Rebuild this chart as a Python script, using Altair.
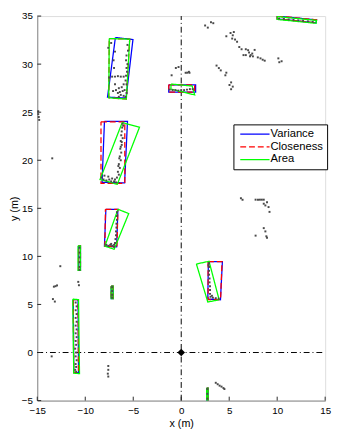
import altair as alt
import pandas as pd

# ---------------- data ----------------
x_ticks = [-15, -10, -5, 0, 5, 10, 15]
y_ticks = [-5, 0, 5, 10, 15, 20, 25, 30, 35]

methods = ["Variance", "Closeness", "Area"]
method_colors = ["#0000ff", "#ff0000", "#00ff00"]
method_dashes = [[1, 0], [6, 3], [1, 0]]

# bounding boxes (corner xs, corner ys) per object and method
variance_boxes = [
    ([-6.86, -5.03, -5.75, -7.68], [32.77, 32.56, 26.47, 26.57]),
    ([-1.30, 1.50, 1.50, -1.30], [27.85, 27.85, 27.08, 27.08]),
    ([-8.00, -5.60, -5.90, -8.25], [24.05, 24.05, 17.65, 17.70]),
    ([-7.85, -6.60, -6.73, -8.00], [14.90, 14.90, 11.00, 11.07]),
    ([2.83, 4.29, 4.09, 2.77], [9.45, 9.45, 5.49, 5.56]),
    ([-11.25, -10.75, -10.70, -11.20], [5.50, 5.50, -2.10, -2.10]),
    ([-10.70, -10.50, -10.50, -10.70], [11.10, 11.10, 8.55, 8.55]),
    ([-7.30, -7.10, -7.10, -7.30], [6.90, 6.90, 5.60, 5.60]),
    ([2.65, 2.80, 2.80, 2.65], [-3.70, -3.70, -5.00, -5.00]),
    ([10.00, 14.10, 14.05, 10.00], [35.00, 34.60, 34.30, 34.70]),
]
closeness_boxes = [
    ([-7.50, -5.37, -5.72, -7.55], [32.66, 32.60, 26.37, 26.50]),
    ([-1.30, 1.40, 1.40, -1.30], [27.85, 27.85, 27.10, 27.10]),
    ([-8.36, -5.88, -5.88, -8.36], [24.00, 24.00, 17.60, 17.60]),
    ([-7.90, -6.60, -6.70, -7.95], [14.90, 14.90, 11.00, 11.05]),
    ([2.80, 4.25, 4.10, 2.80], [9.45, 9.45, 5.50, 5.50]),
    ([-11.25, -10.75, -10.70, -11.20], [5.50, 5.50, -2.10, -2.10]),
    ([-10.70, -10.50, -10.50, -10.70], [11.10, 11.10, 8.55, 8.55]),
    ([-7.30, -7.10, -7.10, -7.30], [6.90, 6.90, 5.60, 5.60]),
    ([2.65, 2.80, 2.80, 2.65], [-3.70, -3.70, -5.00, -5.00]),
    ([10.00, 14.10, 14.05, 10.00], [35.00, 34.60, 34.30, 34.70]),
]
area_boxes = [
    ([-7.50, -5.37, -5.72, -7.55], [32.66, 32.60, 26.37, 26.50]),
    ([-1.07, 1.14, 1.40, -1.07], [27.93, 27.72, 26.80, 27.40]),
    ([-6.15, -4.35, -6.66, -8.46], [23.93, 23.43, 17.50, 18.00]),
    ([-6.59, -5.47, -6.99, -7.95], [14.90, 14.46, 10.74, 11.07]),
    ([1.58, 2.90, 3.95, 2.77], [9.21, 9.49, 5.49, 5.25]),
    ([-11.30, -10.70, -10.60, -11.20], [5.55, 5.50, -2.20, -2.15]),
    ([-10.75, -10.50, -10.50, -10.75], [11.10, 11.10, 8.55, 8.55]),
    ([-7.30, -7.10, -7.10, -7.30], [6.90, 6.90, 5.60, 5.60]),
    ([2.65, 2.80, 2.80, 2.65], [-3.70, -3.70, -5.00, -5.00]),
    ([10.00, 14.10, 14.05, 10.00], [34.95, 34.55, 34.25, 34.65]),
]

# lidar points
pts_x = [
    # object near (-6.5, 29)
    -5.6, -5.55, -5.7, -5.75, -5.6, -5.7, -5.65, -5.75, -5.8, -5.7, -6.0, -6.3,
    -6.6, -6.9, -7.2, -7.5, -7.0, -7.05, -6.9, -7.6, -7.3, -6.0, -6.2, -6.5,
    -6.8, -6.6, -6.3, -6.0, -5.8, -6.9, -7.1, -6.5, -5.9, -5.7, -6.1, -6.4,
    # object near (0, 27.3)
    -1.2, -0.9, -0.6, -0.3, 0.0, 0.3, 0.6, 0.9, 1.2, -1.0, -0.56, -0.28, 0.46, 0.8,
    # object near (-7, 21)
    -6.1, -6.15, -6.2, -6.25, -6.1, -6.3, -6.2, -6.35, -6.25, -6.4, -6.3, -6.5,
    -6.4, -6.6, -6.5, -6.7, -6.9, -7.2, -7.5, -7.8, -8.1, -8.3, -7.0, -7.3,
    -6.8, -7.6, -8.0, -6.05, -6.2, -6.3, -6.45, -6.55,
    # object near (-7.2, 13)
    -7.8, -7.6, -7.4, -7.2, -7.0, -6.9, -6.85, -6.8, -6.8, -6.75, -6.75, -6.7,
    -6.7, -6.7, -7.0, -7.3,
    # object near (3.3, 7.5)
    2.9, 2.9, 2.9, 2.9, 2.95, 2.95, 3.0, 3.0, 3.0, 3.05, 3.3, 3.6, 3.9, 3.2, 2.85,
    # long object near (-11, 2)
    -11.0, -10.9, -11.0, -10.9, -11.0, -10.9, -11.0, -10.9, -11.0, -10.9,
    -11.0, -10.95, -11.05, -10.95, -11.0, -10.9, -11.0, -10.95, -11.05, -10.95,
    # small objects on the left
    -10.6, -10.6, -10.6, -10.6, -10.6, -10.6, -7.2, -7.2, -7.2, -7.2,
    -12.6, -13.27, -13.1, -12.94, -13.37, -13.17, -10.73, -10.66, -13.5,
    -14.9, -14.9, -14.85, -14.8, -13.44,
    # bottom
    -7.6, -7.6, -7.65, -7.6, 2.72, 2.72, 2.72, 3.6, 3.8, 4.0, 4.2, 4.4, 4.5,
    # top right rectangle
    10.2, 10.7, 11.2, 11.7, 12.2, 12.7, 13.2, 13.7,
    # scattered points upper right
    3.1, 3.34, 2.49, 2.77, 4.70, 5.14, 5.48, 5.37, 5.31, 5.61, 5.82, 6.05,
    6.29, 6.73, 6.97, 7.07, 7.40, 7.24, 6.49, 6.73, 7.17, 7.47, 7.98, 8.26,
    8.49, 8.70, 7.65, 10.12, 10.22, 10.46, 3.68, 3.92, 4.12, 4.70, 4.60, 5.20,
    5.03, 5.37, 5.20, 0.63, 0.86,
    # points on the right, middle
    6.22, 6.39, 7.75, 8.0, 8.2, 8.4, 8.6, 8.6, 8.77, 8.94, 9.1, 9.2, 8.6,
    8.77, 7.75, 8.87, 8.94,
]
pts_y = [
    32.0, 31.4, 30.9, 30.4, 30.0, 29.6, 29.2, 28.8, 28.3, 27.9, 28.7, 28.7,
    28.75, 28.7, 28.7, 28.6, 29.6, 30.4, 31.3, 31.7, 32.2, 27.9, 27.6, 27.5,
    27.3, 27.0, 26.8, 26.7, 26.6, 27.9, 27.2, 26.6, 27.3, 27.0, 27.2, 27.1,
    27.35, 27.3, 27.3, 27.25, 27.3, 27.3, 27.35, 27.4, 27.4, 28.84, 29.6, 29.7, 29.1, 29.2,
    23.8, 23.4, 23.0, 22.6, 22.3, 22.0, 21.6, 21.2, 20.8, 20.4, 20.0, 19.6,
    19.2, 18.8, 18.5, 18.2, 18.0, 18.1, 18.0, 17.9, 18.0, 18.2, 17.8, 17.8,
    17.7, 18.3, 18.4, 23.6, 21.9, 21.4, 20.2, 19.4,
    11.2, 11.1, 11.2, 11.1, 11.2, 11.4, 11.8, 12.2, 12.6, 13.0, 13.4, 13.8,
    14.2, 14.6, 11.0, 11.3,
    9.3, 8.9, 8.5, 8.1, 7.7, 7.3, 6.9, 6.5, 6.1, 5.8, 5.7, 5.65, 5.6, 5.9, 9.1,
    5.2, 4.8, 4.4, 4.0, 3.6, 3.2, 2.8, 2.4, 2.0, 1.6,
    1.2, 0.8, 0.4, 0.0, -0.4, -0.8, -1.2, -1.5, -1.8, -2.0,
    10.9, 10.4, 9.9, 9.4, 8.9, 8.6, 6.8, 6.4, 6.0, 5.7,
    8.98, 6.85, 6.9, 6.98, 5.56, 5.3, 7.35, 7.0, -0.4,
    25.1, 24.8, 24.5, 24.2, 20.2,
    -1.4, -1.8, -2.2, -2.5, -3.8, -4.3, -4.8, -3.15, -3.3, -3.45, -3.55, -3.7, -3.8,
    34.75, 34.7, 34.65, 34.6, 34.55, 34.5, 34.45, 34.4,
    34.36, 34.26, 34.02, 33.8, 32.9, 33.24, 33.34, 33.0, 32.66, 32.56, 32.33, 31.78,
    31.55, 31.55, 31.45, 31.21, 31.10, 30.94, 30.94, 30.94, 30.81, 30.81, 30.70, 30.60,
    30.46, 30.36, 31.48, 30.60, 30.20, 30.30, 29.85, 29.59, 29.35, 29.11, 28.84, 28.10,
    27.83, 27.66, 27.39, 29.11, 29.10,
    16.05, 15.89, 15.9, 15.9, 15.9, 15.9, 15.9, 15.48, 15.3, 15.64, 15.13, 14.63, 12.94,
    12.6, 12.16, 12.09, 11.93,
]

# ---------------- tables ----------------
rows = []
for method, boxes in zip(methods, [variance_boxes, closeness_boxes, area_boxes]):
    for i, (bx, by) in enumerate(boxes):
        for k in range(5):
            rows.append({"obj": i, "method": method, "order": k,
                         "x": bx[k % 4], "y": by[k % 4]})
boxes_df = pd.DataFrame(rows)
points_df = pd.DataFrame({"x": pts_x, "y": pts_y})
xt_df = pd.DataFrame({"v": x_ticks})
yt_df = pd.DataFrame({"v": y_ticks})
cross_df = pd.DataFrame({"x": [0, -15], "x2": [0, 15], "y": [-5, 0], "y2": [35, 0]})
origin_df = pd.DataFrame({"x": [0], "y": [0]})

W, H = 295, 394
FONT = "Liberation Sans"
xs = alt.Scale(domain=[-15, 15], nice=False, zero=False)
ys = alt.Scale(domain=[-5, 35], nice=False, zero=False)

x_axis = alt.Axis(values=x_ticks, ticks=False, grid=False, labelPadding=5,
                  labelFlush=False, labelOverlap=False, title="x (m)",
                  titlePadding=3, titleFontWeight="normal")
y_axis = alt.Axis(values=y_ticks, ticks=False, grid=False, labelPadding=5,
                  labelFlush=False, labelOverlap=False, title="y (m)",
                  titlePadding=2, titleFontWeight="normal")

legend = alt.Legend(orient="none", legendX=201, legendY=111,
                    symbolType="M-0.6,0H5.4", symbolSize=100,
                    symbolStrokeWidth=1.3, strokeColor="black",
                    fillColor="white", padding=4, labelFont=FONT,
                    labelFontSize=11.5, labelColor="black", labelOffset=22,
                    rowPadding=1)

cross = alt.Chart(cross_df).mark_rule(
    color="black", strokeWidth=1, strokeDash=[6, 3, 1, 3]
).encode(
    x=alt.X("x:Q", scale=xs, axis=x_axis),
    x2="x2:Q",
    y=alt.Y("y:Q", scale=ys, axis=y_axis),
    y2="y2:Q",
)

boxes = alt.Chart(boxes_df).mark_line(strokeWidth=1.3, clip=True).encode(
    x=alt.X("x:Q", scale=xs),
    y=alt.Y("y:Q", scale=ys),
    order="order:Q",
    detail="obj:N",
    color=alt.Color("method:N", scale=alt.Scale(domain=methods, range=method_colors),
                    title=None, legend=legend),
    strokeDash=alt.StrokeDash("method:N",
                              scale=alt.Scale(domain=methods, range=method_dashes),
                              title=None, legend=legend),
)

points = alt.Chart(points_df).mark_square(size=4, color="#4a4a4a", opacity=1).encode(
    x=alt.X("x:Q", scale=xs),
    y=alt.Y("y:Q", scale=ys),
)

origin = alt.Chart(origin_df).mark_point(
    shape="diamond", filled=True, color="black", size=60, opacity=1
).encode(x=alt.X("x:Q", scale=xs), y=alt.Y("y:Q", scale=ys))

xticks = alt.Chart(xt_df).mark_rule(color="#262626", strokeWidth=1).encode(
    x=alt.X("v:Q", scale=xs), y=alt.value(H), y2=alt.value(H - 4)
)
yticks = alt.Chart(yt_df).mark_rule(color="#262626", strokeWidth=1).encode(
    y=alt.Y("v:Q", scale=ys), x=alt.value(0), x2=alt.value(4)
)

chart = alt.layer(cross, boxes, points, origin, xticks, yticks).properties(
    width=W, height=H,
    autosize=alt.AutoSizeParams(type="none"),
    padding={"left": 30, "top": 3, "right": 7, "bottom": 30},
).configure_view(stroke=None).configure_axis(
    labelFont=FONT, titleFont=FONT, labelFontSize=9, titleFontSize=11,
    labelColor="#262626", titleColor="#262626", titleFontWeight="normal",
    domainColor="#262626", domainWidth=1,
).configure(background="white")

chart.save("out.html", embed_options={"renderer": "svg", "actions": False})
